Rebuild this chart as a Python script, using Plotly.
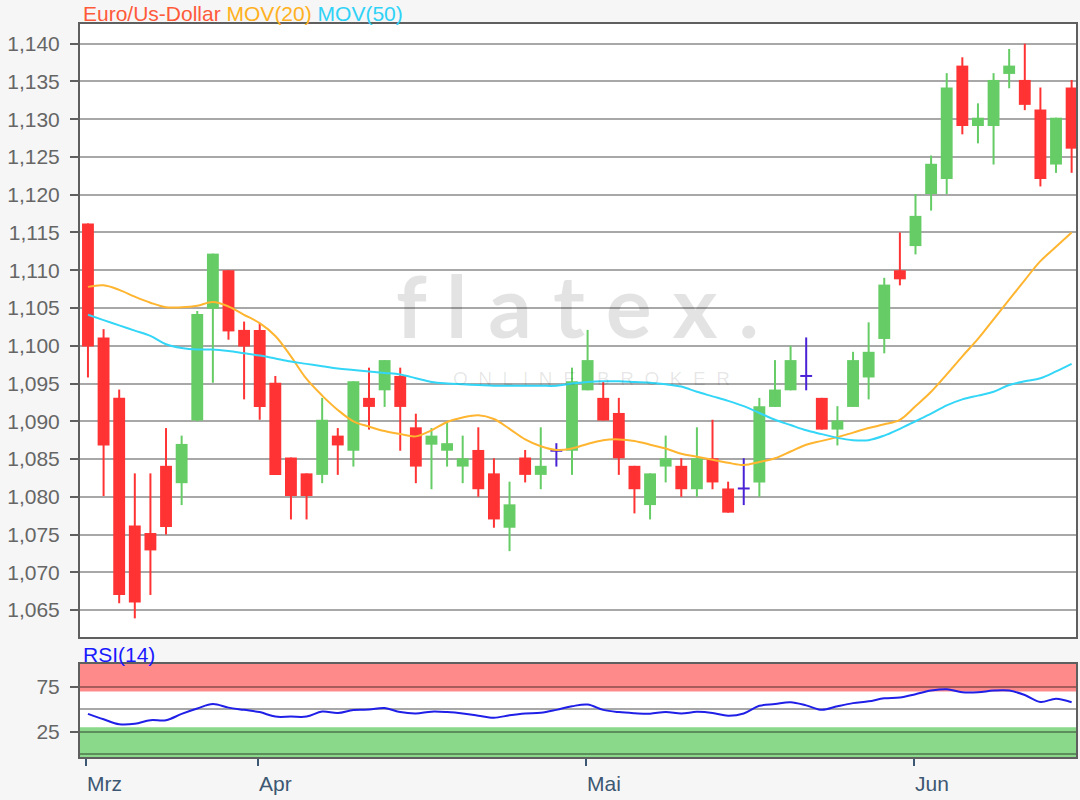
import plotly.graph_objects as go

# ---------------- data ----------------
month_labels = ["Mrz", "Apr", "Mai", "Jun"]
month_start_idx = [0, 11, 32, 53]

opens = [1.1162, 1.1011, 1.0931, 1.0762, 1.0752, 1.0841, 1.0818, 1.0901, 1.1049, 1.1100,
         1.1021, 1.1021, 1.0951, 1.0852, 1.0831, 1.0829, 1.0881, 1.0861, 1.0931, 1.0941,
         1.0960, 1.0892, 1.0869, 1.0861, 1.0840, 1.0862, 1.0831, 1.0759, 1.0852, 1.0829,
         1.0861, 1.0861, 1.0941, 1.0931, 1.0911, 1.0841, 1.0789, 1.0840, 1.0841, 1.0810,
         1.0851, 1.0811, 1.0811, 1.0819, 1.0919, 1.0941, 1.0960, 1.0931, 1.0889, 1.0919,
         1.0958, 1.1009, 1.1100, 1.1132, 1.1201, 1.1221, 1.1371, 1.1291, 1.1291, 1.1360,
         1.1352, 1.1313, 1.1240, 1.1342]
highs = [1.1162, 1.1022, 1.0942, 1.0831, 1.0831, 1.0891, 1.0881, 1.1046, 1.1122, 1.1100,
         1.1032, 1.1030, 1.0960, 1.0852, 1.0831, 1.0931, 1.0891, 1.0953, 1.0971, 1.0981,
         1.0971, 1.0910, 1.0891, 1.0900, 1.0881, 1.0892, 1.0851, 1.0820, 1.0862, 1.0892,
         1.0871, 1.0971, 1.1021, 1.0953, 1.0931, 1.0841, 1.0831, 1.0881, 1.0851, 1.0892,
         1.0902, 1.0820, 1.0851, 1.0931, 1.0981, 1.1000, 1.1011, 1.0931, 1.0920, 1.0992,
         1.1031, 1.1090, 1.1150, 1.1201, 1.1252, 1.1361, 1.1382, 1.1321, 1.1361, 1.1393,
         1.1400, 1.1342, 1.1302, 1.1352]
lows = [1.0958, 1.0801, 1.0659, 1.0639, 1.0670, 1.0750, 1.0789, 1.0900, 1.0951, 1.1008,
        1.0929, 1.0902, 1.0829, 1.0770, 1.0770, 1.0818, 1.0829, 1.0840, 1.0889, 1.0919,
        1.0861, 1.0818, 1.0810, 1.0840, 1.0818, 1.0800, 1.0759, 1.0728, 1.0819, 1.0810,
        1.0840, 1.0829, 1.0941, 1.0901, 1.0829, 1.0778, 1.0770, 1.0819, 1.0800, 1.0800,
        1.0810, 1.0779, 1.0789, 1.0800, 1.0919, 1.0941, 1.0941, 1.0889, 1.0868, 1.0919,
        1.0929, 1.0990, 1.1080, 1.1121, 1.1179, 1.1201, 1.1280, 1.1268, 1.1240, 1.1341,
        1.1312, 1.1211, 1.1229, 1.1229]
closes = [1.0999, 1.0868, 1.0670, 1.0660, 1.0729, 1.0760, 1.0870, 1.1042, 1.1122, 1.1019,
          1.0999, 1.0919, 1.0829, 1.0801, 1.0801, 1.0902, 1.0868, 1.0953, 1.0919, 1.0981,
          1.0919, 1.0840, 1.0881, 1.0871, 1.0851, 1.0810, 1.0770, 1.0790, 1.0829, 1.0841,
          1.0861, 1.0953, 1.0981, 1.0901, 1.0851, 1.0810, 1.0831, 1.0851, 1.0810, 1.0851,
          1.0819, 1.0779, 1.0811, 1.0920, 1.0942, 1.0981, 1.0960, 1.0889, 1.0901, 1.0981,
          1.0992, 1.1081, 1.1088, 1.1172, 1.1241, 1.1342, 1.1291, 1.1302, 1.1352, 1.1371,
          1.1319, 1.1221, 1.1302, 1.1261]

mov20 = [1.1078, 1.1080, 1.1074, 1.1065, 1.1057, 1.1051, 1.1051, 1.1053, 1.1058, 1.1052,
         1.1041, 1.1030, 1.1013, 1.0986, 1.0956, 1.0934, 1.0915, 1.0900, 1.0893, 1.0887,
         1.0883, 1.0880, 1.0888, 1.0899, 1.0905, 1.0908, 1.0903, 1.0890, 1.0876, 1.0867,
         1.0862, 1.0864, 1.0870, 1.0875, 1.0876, 1.0874, 1.0869, 1.0864, 1.0857, 1.0853,
         1.0849, 1.0845, 1.0842, 1.0846, 1.0851, 1.0860, 1.0869, 1.0874, 1.0879, 1.0885,
         1.0891, 1.0896, 1.0902, 1.0920, 1.0939, 1.0962, 1.0986, 1.1009, 1.1035, 1.1061,
         1.1087, 1.1112, 1.1131, 1.1150]
mov50 = [1.1041, 1.1034, 1.1027, 1.1020, 1.1013, 1.1002, 1.0997, 1.0995, 1.0995, 1.0993,
         1.0990, 1.0987, 1.0983, 1.0979, 1.0976, 1.0973, 1.0970, 1.0968, 1.0966, 1.0964,
         1.0962, 1.0957, 1.0952, 1.0950, 1.0949, 1.0948, 1.0947, 1.0947, 1.0947, 1.0947,
         1.0947, 1.0950, 1.0952, 1.0953, 1.0953, 1.0952, 1.0951, 1.0949, 1.0946, 1.0939,
         1.0933, 1.0927, 1.0920, 1.0911, 1.0902, 1.0895, 1.0888, 1.0883, 1.0878, 1.0875,
         1.0875, 1.0881, 1.0890, 1.0900, 1.0910, 1.0921, 1.0929, 1.0934, 1.0939, 1.0948,
         1.0953, 1.0957, 1.0966, 1.0976]
rsi14 = [45, 39, 33.5, 34, 38, 38, 45, 51, 56, 52,
         49.5, 47, 42, 42, 42, 47.6, 46, 49.4, 49.8, 51.5,
         47, 45.5, 47.5, 47, 45.5, 43, 40.7, 43.5, 45.5, 46.2,
         49.5, 53.5, 55.5, 49.5, 47, 45.8, 45.2, 47.2, 45.5, 47.3,
         46.1, 43, 45.5, 54, 56, 58, 54.5, 49.5, 53.5, 57,
         59, 62.4, 63.3, 67, 71, 72.5, 69.1, 69.1, 71, 71,
         66, 58.2, 62, 58]

# ---------------- styles ----------------
UP = "#66cc66"
DOWN = "#ff3333"
DOJI = "#4a22d6"
ORANGE = "#ffb530"
CYAN = "#33d6f6"
BODY_W = 0.76
FONT = "Liberation Sans, Arial, sans-serif"
BG = "#f6f6f6"

idx = list(range(len(opens)))


def kind(i):
    if closes[i] > opens[i]:
        return "up"
    if closes[i] < opens[i]:
        return "down"
    return "doji"


fig = go.Figure()

# wicks
for k, col in [("up", UP), ("down", DOWN), ("doji", DOJI)]:
    xs, ys = [], []
    for i in idx:
        if kind(i) == k:
            xs += [i, i, None]
            ys += [lows[i], highs[i], None]
    fig.add_trace(go.Scatter(x=xs, y=ys, mode="lines", line=dict(color=col, width=2),
                             hoverinfo="skip", showlegend=False, xaxis="x", yaxis="y"))

# bodies
for k, col in [("up", UP), ("down", DOWN)]:
    sel = [i for i in idx if kind(i) == k]
    fig.add_trace(go.Bar(x=sel,
                         base=[min(opens[i], closes[i]) for i in sel],
                         y=[abs(closes[i] - opens[i]) for i in sel],
                         width=BODY_W, marker=dict(color=col, line=dict(width=0)),
                         showlegend=False, xaxis="x", yaxis="y"))

# doji ticks
xs, ys = [], []
for i in idx:
    if kind(i) == "doji":
        xs += [i - BODY_W / 2, i + BODY_W / 2, None]
        ys += [opens[i], opens[i], None]
fig.add_trace(go.Scatter(x=xs, y=ys, mode="lines", line=dict(color=DOJI, width=2),
                         hoverinfo="skip", showlegend=False, xaxis="x", yaxis="y"))

# moving averages
fig.add_trace(go.Scatter(x=idx, y=mov20, mode="lines", line=dict(color=ORANGE, width=2, shape="spline"),
                         showlegend=False, xaxis="x", yaxis="y"))
fig.add_trace(go.Scatter(x=idx, y=mov50, mode="lines", line=dict(color=CYAN, width=2, shape="spline"),
                         showlegend=False, xaxis="x", yaxis="y"))

# RSI
fig.add_trace(go.Scatter(x=idx, y=rsi14, mode="lines", line=dict(color="#1f1fe8", width=2, shape="spline"),
                         showlegend=False, xaxis="x2", yaxis="y2"))

FRAME = "#5f5f5f"
GRID = "rgba(0,0,0,0.34)"

fig.update_layout(
    width=1080, height=800,
    margin=dict(l=80, r=2, t=24, b=43),
    paper_bgcolor=BG, plot_bgcolor="#ffffff",
    separators=",.",
    showlegend=False,
    barmode="overlay",
    font=dict(family=FONT, size=21, color="#666666"),
    xaxis=dict(domain=[0, 1], range=[-0.51, 63.28], anchor="y",
               showgrid=False, showticklabels=False, ticks="", zeroline=False,
               showline=True, linecolor=FRAME, linewidth=2, mirror=True),
    yaxis=dict(domain=[0.1637, 1], range=[1.06143, 1.14261], anchor="x",
               tick0=1.065, dtick=0.005, tickformat=".3f",
               ticks="outside", ticklen=8, tickwidth=2, tickcolor=FRAME,
               ticklabelstandoff=6,
               showgrid=True, gridcolor=GRID, gridwidth=2, zeroline=False,
               showline=True, linecolor=FRAME, linewidth=2, mirror=True,
               tickfont=dict(color="#666666", size=21)),
    xaxis2=dict(domain=[0, 1], range=[-0.51, 63.28], anchor="y2",
                tickvals=[m - 0.12 for m in month_start_idx], showticklabels=False,
                ticks="outside", ticklen=7, tickwidth=2, tickcolor="#3d5872",
                showgrid=False, zeroline=False,
                showline=True, linecolor=FRAME, linewidth=2, mirror=True),
    yaxis2=dict(domain=[0, 0.1269], range=[-3, 100.6], anchor="x2",
                tickvals=[25, 75], ticks="outside", ticklen=8, tickwidth=2, tickcolor=FRAME,
                ticklabelstandoff=6,
                showgrid=True, gridcolor=GRID, gridwidth=2, zeroline=False,
                minor=dict(tickvals=[0, 50, 100], showgrid=True, gridcolor=GRID, gridwidth=2, ticks=""),
                showline=True, linecolor=FRAME, linewidth=2, mirror=True,
                tickfont=dict(color="#666666", size=21)),
)

# RSI zones
fig.add_shape(type="rect", xref="x2 domain", yref="y2", x0=0, x1=1, y0=70, y1=101,
              fillcolor="#ff8a8a", line=dict(width=0), layer="below")
fig.add_shape(type="rect", xref="x2 domain", yref="y2", x0=0, x1=1, y0=-3, y1=30,
              fillcolor="#8ad88a", line=dict(width=0), layer="below")

# titles
fig.add_annotation(xref="paper", yref="paper", x=0, y=1.0145, xanchor="left", yanchor="middle",
                   xshift=1, showarrow=False,
                   text="<span style='color:#ff5a3a'>Euro/Us-Dollar</span> "
                        "<span style='color:#ffb020'>MOV(20)</span> "
                        "<span style='color:#2fd2f6'>MOV(50)</span>",
                   font=dict(family=FONT, size=21))
fig.add_annotation(xref="paper", yref="paper", x=0, y=0.1405, xanchor="left", yanchor="middle",
                   xshift=1, showarrow=False, text="RSI(14)",
                   font=dict(family=FONT, size=21, color="#1a1aff"))

# month labels (left aligned at the tick)
for m, lab in zip(month_start_idx, month_labels):
    fig.add_annotation(xref="x2", yref="paper", x=m - 0.12, y=-0.0355, xanchor="left",
                       yanchor="middle", showarrow=False, text=lab, xshift=-1,
                       font=dict(family=FONT, size=21, color="#3d5872"))

# watermark
fig.add_annotation(xref="paper", yref="paper", x=0.499, y=0.617, xanchor="center", yanchor="middle",
                   showarrow=False, text="f l a t e x .",
                   font=dict(family="Lato, sans-serif", size=86, weight="bold",
                             color="rgba(0,0,0,0.11)"))
fig.add_annotation(xref="paper", yref="paper", x=0.514, y=0.517, xanchor="center", yanchor="middle",
                   showarrow=False, text="O  N  L  I  N  E    B  R  O  K  E  R",
                   font=dict(family=FONT, size=19, color="rgba(0,0,0,0.10)"))

fig.write_html("out.html",
               config={"displayModeBar": False},
               post_script="document.body.style.margin='0';document.body.style.background='%s';" % BG)
